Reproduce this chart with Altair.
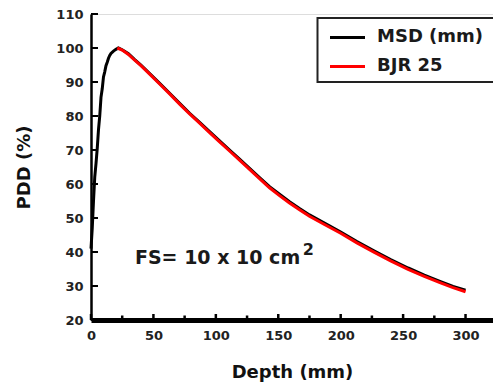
import altair as alt
import pandas as pd

FONT = "DejaVu Sans"

# MSD (mm) measured PDD
msd_depth = [0, 1, 2, 3, 4, 5, 6, 7, 8, 9, 10, 11, 12, 13, 14, 15, 16, 18, 20, 22,
             25, 30, 35, 40, 47, 55, 63, 71, 79, 87, 95, 103, 111, 119, 127, 135,
             143, 151, 159, 167, 175, 187, 200, 213, 227, 240, 254, 267, 280, 290, 300]
msd_pdd = [41, 47, 55, 62, 66, 70.5, 76, 80, 85.5, 88, 91.5, 93, 94.8, 95.8, 97, 97.8,
           98.4, 99.1, 99.6, 100, 99.5, 98.3, 96.6, 95, 92.5, 89.6, 86.7, 83.7, 80.8,
           78.1, 75.4, 72.7, 70, 67.3, 64.6, 61.9, 59.2, 57, 54.8, 52.8, 50.9, 48.5,
           45.9, 43.1, 40.3, 37.8, 35.3, 33.2, 31.3, 29.9, 28.8]

# BJR 25 reference PDD
bjr_depth = [21, 25, 30, 35, 40, 47, 55, 63, 71, 79, 87, 95, 103, 111, 119, 127, 135,
             143, 151, 159, 167, 175, 187, 200, 213, 227, 240, 254, 267, 280, 290, 300]
bjr_pdd = [100, 99.4, 98.1, 96.4, 94.8, 92.3, 89.4, 86.5, 83.5, 80.6, 77.9, 75.1, 72.4,
           69.7, 67.0, 64.3, 61.6, 58.9, 56.6, 54.4, 52.4, 50.5, 48.1, 45.5, 42.7, 39.9,
           37.4, 34.9, 32.8, 30.9, 29.5, 28.3]

series_names = ["MSD (mm)", "BJR 25"]
series_colors = ["#000000", "#ff0000"]

x_major = [0, 50, 100, 150, 200, 250, 300]
x_minor = [25, 75, 125, 175, 225, 275]
y_ticks = [20, 30, 40, 50, 60, 70, 80, 90, 100, 110]

annotation_text = "FS= 10 x 10 cm"
annotation_sup = "2"

df_msd = pd.DataFrame({"depth": msd_depth, "pdd": msd_pdd})
df_bjr = pd.DataFrame({"depth": bjr_depth, "pdd": bjr_pdd})

xscale = alt.Scale(domain=[0, 322], nice=False, zero=False)
yscale = alt.Scale(domain=[20, 110], nice=False, zero=False)

xaxis = alt.Axis(values=x_major, title="Depth (mm)", ticks=False, grid=False,
                 domainColor="black", domainWidth=5, labelFont=FONT, labelFontWeight="bold",
                 labelFontSize=13, labelColor="#222", labelPadding=9,
                 titleFont=FONT, titleFontWeight="bold", titleFontSize=18, titleColor="#111",
                 titlePadding=21, labelFlush=False)
yaxis = alt.Axis(values=y_ticks, title="PDD (%)", ticks=False, grid=False,
                 domainColor="black", domainWidth=2.5, labelFont=FONT, labelFontWeight="bold",
                 labelFontSize=13, labelColor="#222", labelPadding=8,
                 titleFont=FONT, titleFontWeight="bold", titleFontSize=18, titleColor="#111",
                 titlePadding=22, labelFlush=False)


def X(field):
    return alt.X(field, type="quantitative", scale=xscale, axis=xaxis)


def Y(field):
    return alt.Y(field, type="quantitative", scale=yscale, axis=yaxis)


msd_line = alt.Chart(df_msd).mark_line(color=series_colors[0], strokeWidth=3).encode(
    x=X("depth"), y=Y("pdd"))
bjr_line = alt.Chart(df_bjr).mark_line(color=series_colors[1], strokeWidth=3).encode(
    x=X("depth"), y=Y("pdd"))

ytick_layer = alt.Chart(pd.DataFrame({"pdd": y_ticks})).mark_rule(color="black", strokeWidth=2).encode(
    y=Y("pdd"), x=alt.value(0), x2=alt.value(7))
xmajor_layer = alt.Chart(pd.DataFrame({"depth": x_major})).mark_rule(color="black", strokeWidth=2.5).encode(
    x=X("depth"), y=alt.value(306), y2=alt.value(300))
xminor_layer = alt.Chart(pd.DataFrame({"depth": x_minor})).mark_rule(color="black", strokeWidth=2.5).encode(
    x=X("depth"), y=alt.value(306), y2=alt.value(301.5))

annot = alt.Chart(pd.DataFrame({"depth": [35.2], "pdd": [36.5], "t": [annotation_text]})).mark_text(
    font=FONT, fontWeight="bold", fontSize=19, align="left", baseline="alphabetic", color="#1a1a1a"
).encode(x=X("depth"), y=Y("pdd"), text="t:N")
annot_sup = alt.Chart(pd.DataFrame({"depth": [169.6], "pdd": [39.2], "t": [annotation_sup]})).mark_text(
    font=FONT, fontWeight="bold", fontSize=16, align="left", baseline="alphabetic", color="#1a1a1a"
).encode(x=X("depth"), y=Y("pdd"), text="t:N")

# legend box (drawn manually)
legend_box = alt.Chart(pd.DataFrame({"a": [0]})).mark_rect(
    fill="white", stroke="#222", strokeWidth=2).encode(
    x=alt.value(226.5), x2=alt.value(420), y=alt.value(4), y2=alt.value(68))

legend_layers = []
row_y = [23.5, 52.5]
for name, color, ry in zip(series_names, series_colors, row_y):
    legend_layers.append(
        alt.Chart(pd.DataFrame({"a": [0]})).mark_rule(color=color, strokeWidth=3).encode(
            x=alt.value(239), x2=alt.value(274), y=alt.value(ry))
    )
    legend_layers.append(
        alt.Chart(pd.DataFrame({"t": [name]})).mark_text(
            font=FONT, fontWeight="bold", fontSize=18, align="left", baseline="middle", color="#1a1a1a"
        ).encode(x=alt.value(286), y=alt.value(ry - 0.5), text="t:N")
    )

chart = alt.layer(
    msd_line, bjr_line, ytick_layer, xmajor_layer, xminor_layer, annot, annot_sup,
    legend_box, *legend_layers
).properties(
    width=402, height=306,
    autosize=alt.AutoSizeParams(type="none"),
    padding={"left": 91, "top": 14, "right": 0, "bottom": 67},
).configure_view(stroke=None).configure(background="white")

chart.save("out.html", embed_options={"renderer": "svg", "actions": False})
